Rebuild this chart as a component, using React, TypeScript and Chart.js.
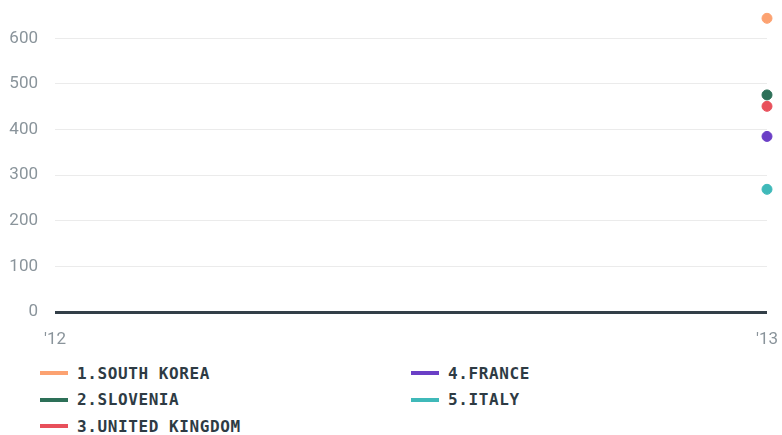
import React, { useEffect, useRef } from "react";
import { Chart, registerables } from "chart.js";

Chart.register(...registerables);

const categories = ["'12", "'13"];
const seriesNames = ["1.SOUTH KOREA", "2.SLOVENIA", "3.UNITED KINGDOM", "4.FRANCE", "5.ITALY"];
const seriesColors = ["#fca271", "#2d7058", "#e8505b", "#6b3fc6", "#3fb9b9"];
const southKorea = [null, 644];
const slovenia = [null, 476];
const unitedKingdom = [null, 451];
const france = [null, 385];
const italy = [null, 269];
const seriesValues = [southKorea, slovenia, unitedKingdom, france, italy];
const yTicks = [0, 100, 200, 300, 400, 500, 600];

export default function App() {
  const ref = useRef<HTMLCanvasElement | null>(null);
  useEffect(() => {
    if (!ref.current) return;
    const chart = new Chart(ref.current, {
      type: "line",
      data: {
        labels: categories,
        datasets: seriesValues.map((vals, i) => ({
          label: seriesNames[i],
          data: vals,
          borderColor: seriesColors[i],
          backgroundColor: seriesColors[i],
          pointRadius: 5,
          pointBorderWidth: 1,
          borderWidth: 3,
          spanGaps: false,
          clip: false as any,
        })),
      },
      options: {
        animation: false,
        responsive: false,
        maintainAspectRatio: false,
        layout: { padding: { top: 11, right: 15, left: 0, bottom: 0 } },
        plugins: { legend: { display: false }, tooltip: { enabled: false } },
        scales: {
          x: {
            type: "category",
            offset: false,
            grid: { display: false, drawTicks: false },
            border: { display: false },
            ticks: {
              color: "#8a949b",
              font: { family: "Roboto", size: 17 },
              padding: 18,
              maxRotation: 0,
              autoSkip: false,
            },
            afterFit: (s: any) => {
              s.height = 43;
              s.paddingLeft = 0;
              s.paddingRight = 0;
            },
          },
          y: {
            min: 0,
            max: 660,
            grid: {
              drawTicks: false,
              color: (c: any) => (c.tick && c.tick.value === 0 ? "#333f48" : "#ebebeb"),
              lineWidth: (c: any) => (c.tick && c.tick.value === 0 ? 3 : 1),
            },
            border: { display: false },
            afterBuildTicks: (s: any) => {
              s.ticks = yTicks.map((v) => ({ value: v }));
            },
            ticks: {
              color: "#8a949b",
              font: { family: "Roboto", size: 17 },
              padding: 17,
            },
            afterFit: (s: any) => {
              s.width = 55;
              s.paddingTop = 0;
              s.paddingBottom = 0;
            },
          },
        },
      },
    });
    return () => chart.destroy();
  }, []);

  const legendItem = (i: number) => (
    <div key={i} style={{ display: "flex", alignItems: "center", height: 26.5 }}>
      <div style={{ width: 28, height: 4, background: seriesColors[i], marginRight: 9 }} />
      <span
        style={{
          fontFamily: "'DejaVu Sans Mono', monospace",
          fontWeight: "bold",
          fontSize: 16,
          letterSpacing: 0.6,
          color: "#2e3b44",
          whiteSpace: "nowrap",
        }}
      >
        {seriesNames[i]}
      </span>
    </div>
  );

  return (
    <div style={{ position: "absolute", left: 0, top: 0, width: 782, height: 435, overflow: "hidden", background: "#fff" }}>
      <canvas ref={ref} width={782} height={355} style={{ position: "absolute", left: 0, top: 0 }} />
      <div style={{ position: "absolute", left: 40, top: 360 }}>{[0, 1, 2].map(legendItem)}</div>
      <div style={{ position: "absolute", left: 411, top: 360 }}>{[3, 4].map(legendItem)}</div>
    </div>
  );
}
